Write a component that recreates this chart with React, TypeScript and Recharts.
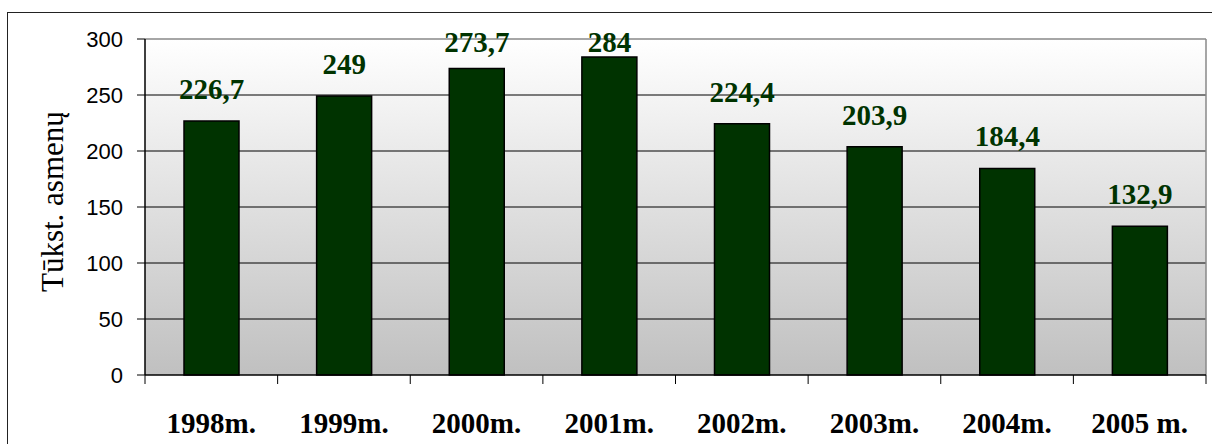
import React from 'react';
import { BarChart, Bar, XAxis, YAxis, CartesianGrid, LabelList } from 'recharts';

const categories = ['1998m.', '1999m.', '2000m.', '2001m.', '2002m.', '2003m.', '2004m.', '2005 m.'];
const values = [226.7, 249, 273.7, 284, 224.4, 203.9, 184.4, 132.9];
const yTicks = [0, 50, 100, 150, 200, 250, 300];
const gridValues = [50, 100, 150, 200, 250];
const yLabel = 'Tūkst. asmenų';
const Y_MAX = 300;

const data = categories.map((c, i) => ({ name: c, value: values[i] }));

const W = 1212;
const H = 444;
const MARGIN = { top: 39, right: 6, left: 0, bottom: 0 };
const Y_W = 145;
const X_H = 69;
const PLOT_W = W - MARGIN.left - MARGIN.right - Y_W;
const PLOT_BOTTOM = H - MARGIN.bottom - X_H;
const BAND = PLOT_W / categories.length;

const SERIF = '"Liberation Serif", "Times New Roman", serif';
const SANS = '"Liberation Sans", Arial, sans-serif';
const GREEN = '#003300';

const fmt = (v: number) => String(v).replace('.', ',');

const scaleY = (p: any, v: number) => {
  const s = p?.yAxis?.scale;
  if (typeof s === 'function') return s(v);
  if (s && typeof s.map === 'function') return s.map(v);
  const o = p.offset;
  return o.top + o.height * (1 - v / Y_MAX);
};

const XTick = (props: any) => {
  const { x, payload, index } = props;
  const left = x - BAND / 2;
  const right = x + BAND / 2;
  return (
    <g>
      <line x1={left} x2={left} y1={PLOT_BOTTOM} y2={PLOT_BOTTOM + 9} stroke="#000" strokeWidth={1} />
      {index === categories.length - 1 && (
        <line x1={right} x2={right} y1={PLOT_BOTTOM} y2={PLOT_BOTTOM + 9} stroke="#000" strokeWidth={1} />
      )}
      <text
        x={x}
        y={433}
        textAnchor="middle"
        fontFamily={SERIF}
        fontWeight="bold"
        fontSize={29}
        fill="#000"
      >
        {payload.value}
      </text>
    </g>
  );
};

const ValueLabel = (props: any) => {
  const { x, y, width, value } = props;
  const baseline = Math.max(y - 22, 52);
  return (
    <text
      x={x + width / 2}
      y={baseline}
      textAnchor="middle"
      fontFamily={SERIF}
      fontWeight="bold"
      fontSize={29}
      fill={GREEN}
    >
      {fmt(value)}
    </text>
  );
};

const YLabel = () => (
  <g>
    <defs>
      <clipPath id="ylabelClip">
        <rect x={0} y={113} width={140} height={330} />
      </clipPath>
    </defs>
    <g clipPath="url(#ylabelClip)">
      <text
        x={63}
        y={292}
        transform="rotate(-90, 63, 292)"
        textAnchor="start"
        fontFamily={SERIF}
        fontSize={31}
        fill="#000"
      >
        {yLabel}
      </text>
    </g>
  </g>
);

export default function App() {
  return (
    <div style={{ position: 'absolute', left: 0, top: 0, width: W, height: H, overflow: 'hidden', background: '#fff' }}>
      <svg width={0} height={0} style={{ position: 'absolute' }}>
        <defs>
          <linearGradient id="plotBg" x1="0" y1="0" x2="0" y2="1">
            <stop offset="0%" stopColor="#ffffff" />
            <stop offset="100%" stopColor="#c0c0c0" />
          </linearGradient>
        </defs>
      </svg>
      <div
        style={{
          position: 'absolute',
          left: 7,
          top: 12,
          width: 1220,
          height: 450,
          border: '1.5px solid #222',
          boxSizing: 'border-box',
        }}
      />
      <div style={{ position: 'absolute', left: 0, top: 0 }}>
        <BarChart width={W} height={H} data={data} margin={MARGIN}>
          <CartesianGrid
            vertical={false}
            stroke="#000"
            strokeWidth={1}
            fill="url(#plotBg)"
            fillOpacity={1}
            horizontalCoordinatesGenerator={(p: any) => gridValues.map((v) => scaleY(p, v))}
          />
          <CartesianGrid
            stroke="#888"
            strokeWidth={1.5}
            horizontalCoordinatesGenerator={(p: any) => [p.offset.top]}
            verticalCoordinatesGenerator={(p: any) => [p.offset.left + p.offset.width]}
          />
          <XAxis
            dataKey="name"
            height={X_H}
            axisLine={{ stroke: '#000', strokeWidth: 1.5 }}
            tickLine={false}
            tick={<XTick />}
            interval={0}
          />
          <YAxis
            width={Y_W}
            domain={[0, Y_MAX]}
            ticks={yTicks}
            interval={0}
            axisLine={{ stroke: '#000', strokeWidth: 1.5 }}
            tickLine={{ stroke: '#000', strokeWidth: 1 }}
            tickSize={8}
            tickMargin={14}
            tick={{ fill: '#000', fontFamily: SANS, fontSize: 22 }}
            label={<YLabel />}
          />
          <Bar dataKey="value" fill={GREEN} stroke="#000" strokeWidth={1.5} barSize={55} isAnimationActive={false}>
            <LabelList dataKey="value" content={<ValueLabel />} />
          </Bar>
        </BarChart>
      </div>
    </div>
  );
}
